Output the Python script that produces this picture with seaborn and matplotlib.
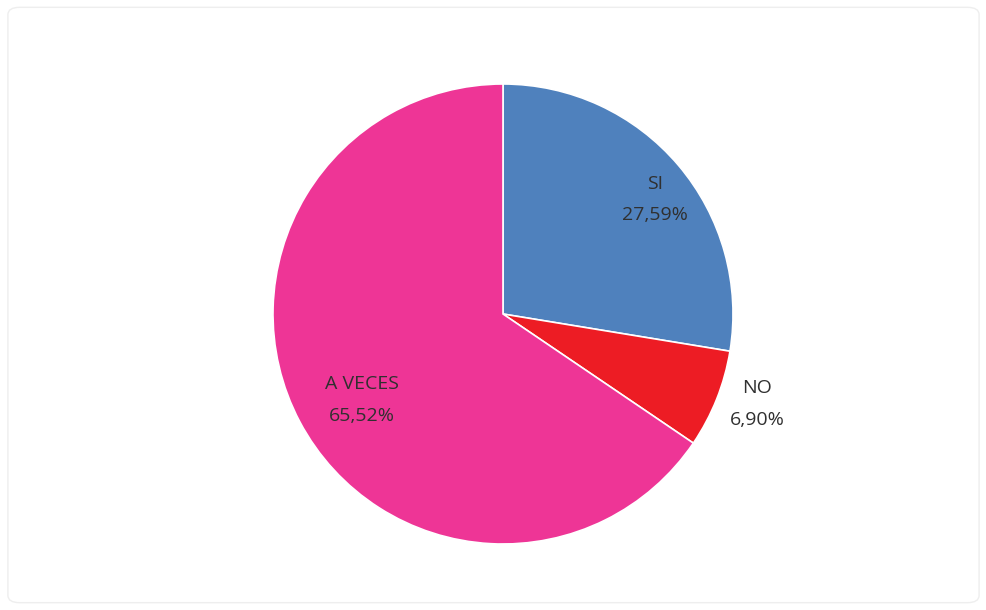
import matplotlib
matplotlib.use("Agg")
import matplotlib.pyplot as plt
from matplotlib.patches import FancyBboxPatch
import seaborn as sns
import numpy as np

# Data
labels = ["SI", "NO", "A VECES"]
shares = [27.59, 6.90, 65.52]
pct_text = ["27,59%", "6,90%", "65,52%"]
colors = ["#4F81BD", "#ED1C24", "#EE3596"]

sns.set_theme(style="white")
plt.rcParams["font.family"] = ["Open Sans", "DejaVu Sans"]

fig = plt.figure(figsize=(9.87, 6.10), dpi=100)
fig.patch.set_facecolor("white")

# faint rounded frame around the chart area
frame = FancyBboxPatch((0.008, 0.012), 0.984, 0.976,
                       boxstyle="round,pad=0,rounding_size=0.012",
                       transform=fig.transFigure, facecolor="none",
                       edgecolor="#EEEEEE", linewidth=1.0)
fig.patches.append(frame)

# axes sized so the pie is centred at (503, 314) px with radius 230 px
ax = fig.add_axes([273 / 987, 66 / 610, 460 / 987, 460 / 610])
wedges, _ = ax.pie(shares, colors=sns.color_palette(colors),
                   startangle=90, counterclock=False, radius=1,
                   wedgeprops=dict(edgecolor="white", linewidth=1.2))
ax.set_xlim(-1, 1)
ax.set_ylim(-1, 1)
ax.set_aspect("equal")
ax.axis("off")

# label placement: distance (fraction of radius) and angle tweak per slice
label_r = [0.826, 1.172, 0.718]
label_dang = [-3.4, 2.2, 3.5]
for w, lab, pct, r, da in zip(wedges, labels, pct_text, label_r, label_dang):
    mid = np.deg2rad((w.theta1 + w.theta2) / 2 + da)
    x, y = r * np.cos(mid), r * np.sin(mid)
    ax.text(x, y, f"{lab}\n{pct}", ha="center", va="center",
            fontsize=14, color="#303030", linespacing=1.95, clip_on=False)

plt.savefig("out.png", dpi=100)
